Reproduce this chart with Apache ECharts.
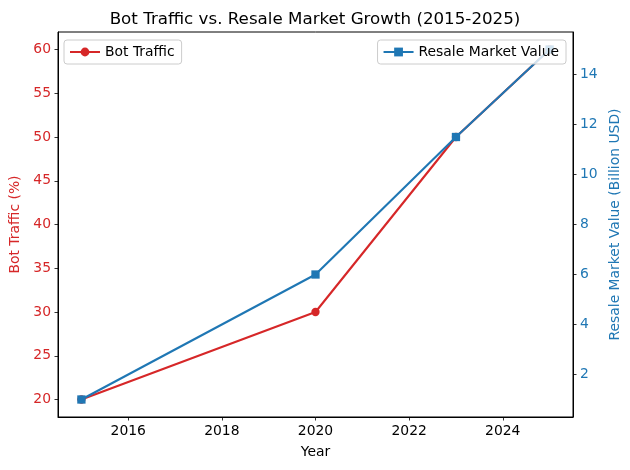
<!DOCTYPE html>
<html>
<head>
<meta charset="utf-8">
<script src="https://cdn.jsdelivr.net/npm/echarts@6/dist/echarts.min.js"></script>
<style>html,body{margin:0;padding:0;background:#fff}#c{width:630px;height:470px}</style>
</head>
<body>
<div id="c"></div>
<script>
const years = [2015, 2020, 2023, 2025];
const botTraffic = [20, 30, 50, 60];
const resaleValue = [1, 6, 11.5, 15];
const xTicks = [2016, 2018, 2020, 2022, 2024];
const leftTicks = [20, 25, 30, 35, 40, 45, 50, 55, 60];
const rightTicks = [2, 4, 6, 8, 10, 12, 14];

const RED = '#d62728', BLUE = '#1f77b4';
const FONT = 'DejaVu Sans';
const chart = echarts.init(document.getElementById('c'), null, {renderer: 'canvas'});
const tickStyle = {show: true, inside: false, length: 3.5, lineStyle: {color: '#000', width: 0.8}};
chart.setOption({
  animation: false,
  backgroundColor: '#fff',
  textStyle: {fontFamily: FONT},
  title: {
    text: 'Bot Traffic vs. Resale Market Growth (2015-2025)',
    left: 'center', top: 6,
    textStyle: {fontFamily: FONT, fontSize: 16.7, fontWeight: 'normal', color: '#000'}
  },
  grid: {left: 58, right: 57, top: 32, bottom: 53, containLabel: false, outerBoundsMode: 'none',
    show: true, borderColor: '#000', borderWidth: 1, backgroundColor: 'transparent'},
  legend: [
    {
      data: ['Bot Traffic'], left: 64, top: 40,
      backgroundColor: 'rgba(255,255,255,0.8)', borderColor: '#cccccc', borderWidth: 1, borderRadius: 3,
      padding: [5, 7, 5, 5], itemWidth: 30, itemHeight: 11, itemGap: 8,
      textStyle: {fontFamily: FONT, fontSize: 13.9, color: '#000'}
    },
    {
      data: ['Resale Market Value'], right: 64, top: 40,
      backgroundColor: 'rgba(255,255,255,0.8)', borderColor: '#cccccc', borderWidth: 1, borderRadius: 3,
      padding: [5, 7, 5, 5], itemWidth: 30, itemHeight: 11, itemGap: 8,
      textStyle: {fontFamily: FONT, fontSize: 13.9, color: '#000'}
    }
  ],
  xAxis: {
    type: 'value', min: 2014.5, max: 2025.5,
    name: 'Year', nameLocation: 'middle', nameGap: 28,
    nameTextStyle: {fontFamily: FONT, fontSize: 13.9, color: '#000'},
    axisLine: {show: true, onZero: false, lineStyle: {color: '#000', width: 1}},
    axisTick: Object.assign({customValues: xTicks}, tickStyle),
    axisLabel: {customValues: xTicks, margin: 7, fontFamily: FONT, fontSize: 13.9, color: '#000',
      formatter: v => String(v)},
    splitLine: {show: false}
  },
  yAxis: [
    {
      type: 'value', position: 'left', min: 18, max: 62,
      name: 'Bot Traffic (%)', nameLocation: 'middle', nameGap: 34, nameRotate: 90,
      nameTextStyle: {fontFamily: FONT, fontSize: 13.9, color: RED},
      axisLine: {show: true, onZero: false, lineStyle: {color: '#000', width: 1}},
      axisTick: Object.assign({customValues: leftTicks}, tickStyle),
      axisLabel: {customValues: leftTicks, margin: 7, fontFamily: FONT, fontSize: 13.9, color: RED},
      splitLine: {show: false}
    },
    {
      type: 'value', position: 'right', min: 0.3, max: 15.7,
      name: 'Resale Market Value (Billion USD)', nameLocation: 'middle', nameGap: 29, nameRotate: 90,
      nameTextStyle: {fontFamily: FONT, fontSize: 13.9, color: BLUE},
      axisLine: {show: true, onZero: false, lineStyle: {color: '#000', width: 1}},
      axisTick: Object.assign({customValues: rightTicks}, tickStyle),
      axisLabel: {customValues: rightTicks, margin: 7, fontFamily: FONT, fontSize: 13.9, color: BLUE},
      splitLine: {show: false}
    }
  ],
  series: [
    {
      name: 'Bot Traffic', type: 'line', yAxisIndex: 0,
      data: years.map((y, i) => [y, botTraffic[i]]),
      color: RED, symbol: 'circle', symbolSize: 8.3, showAllSymbol: true,
      lineStyle: {width: 2.1, color: RED}, itemStyle: {color: RED},
      z: 2
    },
    {
      name: 'Resale Market Value', type: 'line', yAxisIndex: 1,
      data: years.map((y, i) => [y, resaleValue[i]]),
      color: BLUE, symbol: 'rect', symbolSize: 8.3, showAllSymbol: true,
      lineStyle: {width: 2.1, color: BLUE}, itemStyle: {color: BLUE},
      z: 3
    }
  ]
});
</script>
</body>
</html>
